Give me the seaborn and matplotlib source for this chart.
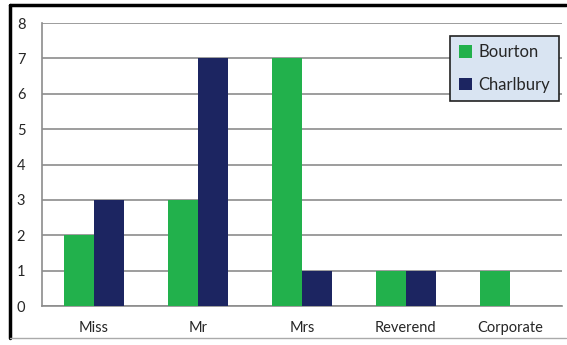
import pandas as pd
import matplotlib.pyplot as plt
import seaborn as sns
from matplotlib.lines import Line2D

# --- data ---
categories = ['Miss', 'Mr', 'Mrs', 'Reverend', 'Corporate']
bourton = [2, 3, 7, 1, 1]
charlbury = [3, 7, 1, 1, 0]

df = pd.DataFrame({
    'Title': categories * 2,
    'Count': bourton + charlbury,
    'Branch': ['Bourton'] * len(categories) + ['Charlbury'] * len(categories),
})

sns.set_style('white')
plt.rcParams['font.family'] = ['Lato', 'DejaVu Sans']

fig = plt.figure(figsize=(5.67, 3.45), dpi=100)
ax = fig.add_axes([0.074, 0.113, 0.917, 0.82])

palette = {'Bourton': '#22b14c', 'Charlbury': '#1c2561'}
sns.barplot(data=df, x='Title', y='Count', hue='Branch', palette=palette,
            width=0.58, saturation=1, linewidth=0, ax=ax, zorder=3)

ax.set_ylim(0, 8)
ax.set_xlim(-0.5, len(categories) - 0.5)
ax.set_yticks(range(0, 9))
ax.yaxis.grid(True, color='#8c8c8c', linewidth=1.2, zorder=0)
ax.set_axisbelow(True)

for side in ['top', 'right']:
    ax.spines[side].set_visible(False)
for side in ['left', 'bottom']:
    ax.spines[side].set_color('#8c8c8c')
    ax.spines[side].set_linewidth(1.2)

# ticks between categories, labels in the middle
ax.set_xticks([i + 0.5 for i in range(-1, len(categories))], minor=True)
ax.tick_params(axis='x', which='major', length=0, labelsize=10.5, pad=11)
ax.tick_params(axis='x', which='minor', length=4, color='#8c8c8c', width=1.2, direction='out')
ax.tick_params(axis='y', length=4, color='#8c8c8c', width=1.2, direction='out', labelsize=10.5, pad=8)
ax.set_xlabel('')
ax.set_ylabel('')

leg = ax.legend(loc='upper right', bbox_to_anchor=(1.01, 0.985), frameon=True, fancybox=False,
                fontsize=12, handlelength=0.8, handleheight=0.8, handletextpad=0.4,
                labelspacing=1.0, borderpad=0.5)
leg.get_frame().set_facecolor('#d9e4f2')
leg.get_frame().set_edgecolor('#222222')
leg.get_frame().set_linewidth(1.2)
leg.get_frame().set_alpha(1)

# outer frame of the chart: black top and left, grey bottom
W, H = 567, 345
fig.add_artist(Line2D([10 / W, 566 / W], [1 - 5 / H, 1 - 5 / H], transform=fig.transFigure,
                      color='black', linewidth=2.5))
fig.add_artist(Line2D([10 / W, 10 / W], [1 - 5 / H, 1 - 338 / H], transform=fig.transFigure,
                      color='black', linewidth=2.5))
fig.add_artist(Line2D([10 / W, 566 / W], [1 - 338 / H, 1 - 338 / H], transform=fig.transFigure,
                      color='#aaaaaa', linewidth=1))

plt.savefig('out.png', dpi=100)
